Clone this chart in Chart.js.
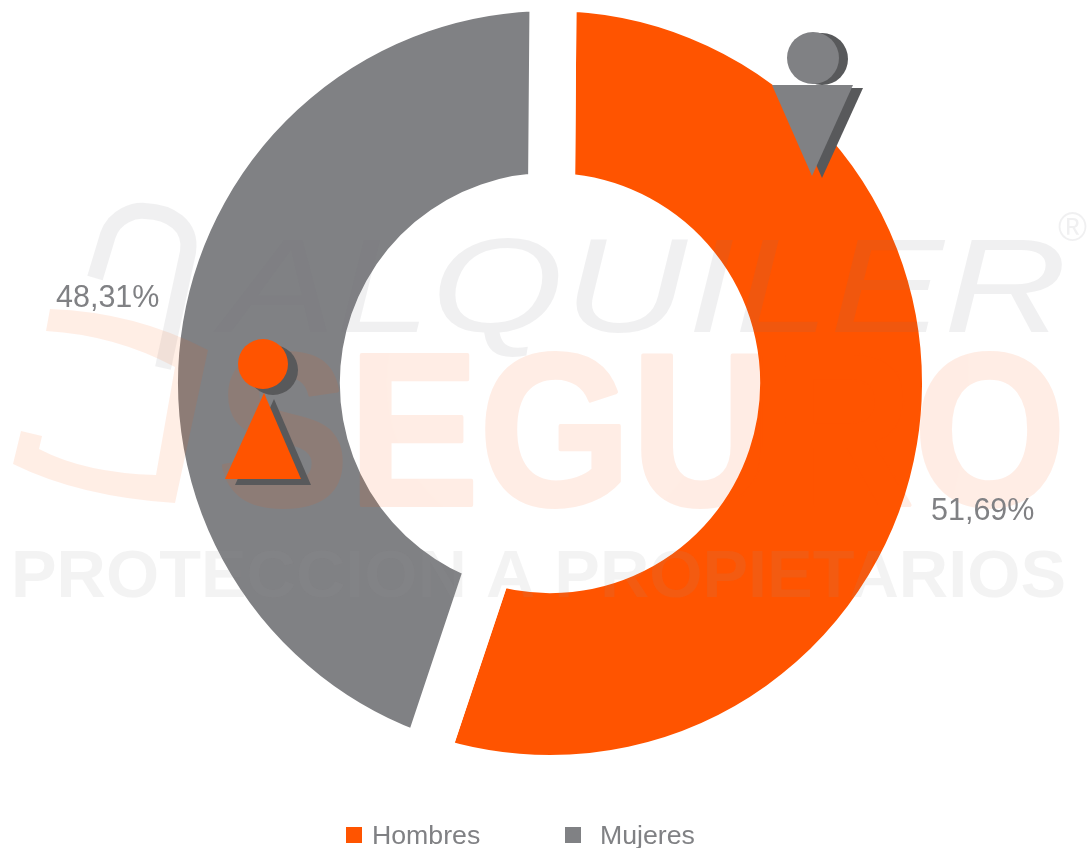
<!DOCTYPE html>
<html>
<head>
<meta charset="utf-8">
<style>
body { margin: 0; background: #fff; }
canvas { display: block; }
</style>
</head>
<body>
<canvas id="myChart" width="1087" height="848"></canvas>
<script src="https://cdn.jsdelivr.net/npm/chart.js@4"></script>
<script>
const categories = ['Hombres', 'Mujeres'];
// share of the ring as drawn in the picture (measured from the gap angles)
const arcShares = [55, 45];
// printed labels
const valueLabels = ['51,69%', '48,31%'];
const colors = ['#ff5400', '#808184'];

const FONT = '"Liberation Sans", Arial, sans-serif';
const GRAY = '#808184';
const ORANGE = '#ff5400';
const SHADOW = '#58595b';

const labelPos = [[931, 520], [56, 307]];
const legendPos = [[346, 372], [565, 600]];

// text squeezed to a given width
function fitText(ctx, text, x, baseline, width, font, outline) {
    ctx.save();
    ctx.font = font;
    const w = ctx.measureText(text).width;
    ctx.translate(x, baseline);
    ctx.scale(width / w, 1);
    if (outline) {
        ctx.lineWidth = outline;
        ctx.lineJoin = 'round';
        ctx.strokeText(text, 0, 0);
    }
    ctx.fillText(text, 0, 0);
    ctx.restore();
}

function drawWatermark(ctx) {
    ctx.save();
    ctx.textAlign = 'left';
    ctx.textBaseline = 'alphabetic';

    // padlock shackle
    ctx.strokeStyle = 'rgba(120,120,124,0.11)';
    ctx.lineWidth = 16;
    ctx.beginPath();
    ctx.moveTo(95, 278);
    ctx.lineTo(108, 235);
    ctx.bezierCurveTo(115, 215, 135, 210, 145, 211);
    ctx.bezierCurveTo(170, 212, 192, 225, 188, 252);
    ctx.lineTo(163, 368);
    ctx.stroke();

    // padlock body
    ctx.fillStyle = 'rgba(255,84,0,0.1)';
    ctx.beginPath();
    ctx.moveTo(50, 309);
    ctx.quadraticCurveTo(135, 312, 208, 350);
    ctx.lineTo(175, 503);
    ctx.quadraticCurveTo(80, 497, 13, 464);
    ctx.lineTo(21, 431);
    ctx.lineTo(42, 436);
    ctx.lineTo(39, 449);
    ctx.quadraticCurveTo(85, 473, 156, 475);
    ctx.lineTo(175, 367);
    ctx.quadraticCurveTo(115, 335, 46, 331);
    ctx.closePath();
    ctx.fill();

    ctx.fillStyle = 'rgba(120,120,124,0.11)';
    fitText(ctx, 'ALQUILER', 222, 332, 845, 'italic 134px ' + FONT);
    fitText(ctx, '®', 1058, 241, 29, '40px ' + FONT);

    // heavy word: fill and outline on their own layer, so the tint stays even
    const layer = document.createElement('canvas');
    layer.width = ctx.canvas.width;
    layer.height = ctx.canvas.height;
    const lctx = layer.getContext('2d');
    lctx.fillStyle = ORANGE;
    lctx.strokeStyle = ORANGE;
    fitText(lctx, 'SEGURO', 218, 505, 848, 'bold 218px ' + FONT, 4);
    ctx.globalAlpha = 0.1;
    ctx.drawImage(layer, 0, 0);
    ctx.globalAlpha = 1;

    ctx.fillStyle = 'rgba(150,150,150,0.114)';
    fitText(ctx, 'PROTECCION A PROPIETARIOS', 11, 597, 1055, 'bold 66px ' + FONT);
    ctx.restore();
}

function triangle(ctx, pts, color) {
    ctx.fillStyle = color;
    ctx.beginPath();
    ctx.moveTo(pts[0][0], pts[0][1]);
    ctx.lineTo(pts[1][0], pts[1][1]);
    ctx.lineTo(pts[2][0], pts[2][1]);
    ctx.closePath();
    ctx.fill();
}

function circle(ctx, x, y, r, color) {
    ctx.fillStyle = color;
    ctx.beginPath();
    ctx.arc(x, y, r, 0, Math.PI * 2);
    ctx.fill();
}

function drawIcons(ctx) {
    // man
    circle(ctx, 822, 59, 26, SHADOW);
    circle(ctx, 813, 58, 26, GRAY);
    triangle(ctx, [[782, 88], [863, 88], [822, 178]], SHADOW);
    triangle(ctx, [[772, 85], [853, 85], [812, 176]], GRAY);
    // woman
    circle(ctx, 273, 370, 25, SHADOW);
    circle(ctx, 263, 364, 25, ORANGE);
    triangle(ctx, [[274, 399], [235, 485], [311, 485]], SHADOW);
    triangle(ctx, [[264, 393], [225, 479], [301, 479]], ORANGE);
}

const decorPlugin = {
    id: 'decor',
    afterDraw(chart) {
        const ctx = chart.ctx;
        drawWatermark(ctx);
        drawIcons(ctx);

        ctx.save();
        ctx.textAlign = 'left';
        ctx.textBaseline = 'alphabetic';
        ctx.fillStyle = GRAY;
        ctx.font = '30.5px ' + FONT;
        valueLabels.forEach((text, i) => {
            ctx.fillText(text, labelPos[i][0], labelPos[i][1]);
        });

        // legend
        ctx.font = '26.7px ' + FONT;
        categories.forEach((name, i) => {
            ctx.fillStyle = colors[i];
            ctx.fillRect(legendPos[i][0], 827, 16, 16);
            ctx.fillStyle = GRAY;
            ctx.fillText(name, legendPos[i][1], 844);
        });
        ctx.restore();
    }
};

new Chart(document.getElementById('myChart'), {
    type: 'doughnut',
    data: {
        labels: categories,
        datasets: [{
            data: arcShares,
            backgroundColor: colors,
            // white border makes the straight gaps between slices
            borderColor: '#ffffff',
            borderWidth: 47,
            borderAlign: 'center',
            radius: 395.5,
            cutout: '47.2%'
        }]
    },
    options: {
        responsive: false,
        animation: false,
        rotation: 0.45,
        layout: { padding: { left: 13, right: 0, top: 0, bottom: 82 } },
        plugins: {
            legend: { display: false },
            tooltip: { enabled: false }
        }
    },
    plugins: [decorPlugin]
});
</script>
</body>
</html>
